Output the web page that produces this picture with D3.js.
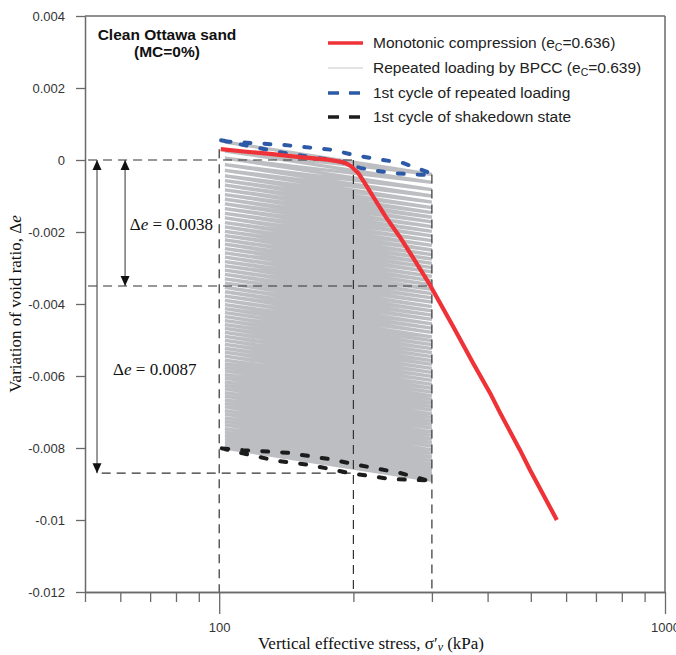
<!DOCTYPE html>
<html><head><meta charset="utf-8">
<script src="https://cdn.jsdelivr.net/npm/d3@7"></script>
<style>
html,body{margin:0;padding:0;background:#fff;}
svg{display:block;}
</style></head>
<body>
<svg id="chart" width="676" height="655"></svg>
<script>
// ---------------- DATA ----------------
const yTickValues = [0.004, 0.002, 0, -0.002, -0.004, -0.006, -0.008, -0.01, -0.012];
const xMajorTicks = [100, 1000];
const xMinorTicks = [50, 60, 70, 80, 90, 200, 300, 400, 500, 600, 700, 800, 900];

// Monotonic compression (ec = 0.636)
const monoStress = [100.8, 115, 130, 152, 175, 187, 193, 198, 205, 213, 221, 237, 254, 275, 297, 335, 371, 405, 427, 473, 498, 572];
const monoDe     = [0.0003, 0.00023, 0.00017, 0.00008, 0.00001, -0.00005, -0.0001, -0.00018, -0.00036, -0.00068, -0.001, -0.0016, -0.00213, -0.0028, -0.00347, -0.00463, -0.00564, -0.00647, -0.00703, -0.00806, -0.00861, -0.01];

// 1st cycle of repeated loading (loading branch then unloading branch)
const blueStress = [101, 113, 139, 166, 180, 196, 207, 226, 250, 282, 300, 297, 258, 233, 200, 180, 139, 105, 101];
const blueDe     = [0.00055, 0.00042, 0.0002, 0.000056, 0, -0.00011, -0.00022, -0.0003, -0.00037, -0.00041, -0.00042, -0.00036, -0.00008, 0, 0.00014, 0.00028, 0.00042, 0.00051, 0.00055];

// 1st cycle of shakedown state
const blackStress = [101.3, 113, 135, 160, 196.5, 242, 277, 300, 297, 254, 221, 177, 142, 113, 101.3];
const blackDe     = [-0.00801, -0.00815, -0.00836, -0.00847, -0.0087, -0.00886, -0.00889, -0.0089, -0.00892, -0.00869, -0.00855, -0.00831, -0.00813, -0.00806, -0.00801];

// Repeated loading by BPCC (ec = 0.639): each cycle from min stress to max stress
const cycleMinStress = 103;
const cycleMaxStress = 300;
const cycleStartDe = [0.0005, 0.00025, 0.00005, -0.00013, -0.00029, -0.00044, -0.00057, -0.0007, -0.00083, -0.00096,
  -0.00109, -0.00122, -0.00135, -0.00148, -0.00161, -0.00174, -0.00186, -0.00198, -0.0021, -0.00222,
  -0.00234, -0.00246, -0.00258, -0.0027, -0.00282, -0.00294, -0.00306, -0.00318, -0.0033, -0.00342,
  -0.00354, -0.00366, -0.00378, -0.0039, -0.00402, -0.00413, -0.00424, -0.00435, -0.00446, -0.00457,
  -0.00468, -0.00479, -0.0049, -0.00501, -0.00512, -0.00523, -0.00534, -0.00545, -0.00556, -0.00566,
  -0.00576, -0.00586, -0.00596, -0.00606, -0.00616, -0.00626, -0.00636, -0.00646, -0.00656, -0.00666,
  -0.00676, -0.00686, -0.00696, -0.00706, -0.00716, -0.00726, -0.00736, -0.00746, -0.00756, -0.00765,
  -0.00774, -0.00783, -0.00792, -0.008];
const cyclePeakDe = [-0.0004, -0.00062, -0.00082, -0.001, -0.00117, -0.00132, -0.00146, -0.00159, -0.00172, -0.00185,
  -0.00198, -0.00211, -0.00224, -0.00237, -0.0025, -0.00263, -0.00275, -0.00287, -0.00299, -0.00311,
  -0.00323, -0.00335, -0.00347, -0.00359, -0.00371, -0.00383, -0.00395, -0.00407, -0.00419, -0.00431,
  -0.00443, -0.00455, -0.00467, -0.00479, -0.00491, -0.00502, -0.00513, -0.00524, -0.00535, -0.00546,
  -0.00557, -0.00568, -0.00579, -0.0059, -0.00601, -0.00612, -0.00623, -0.00634, -0.00645, -0.00655,
  -0.00665, -0.00675, -0.00685, -0.00695, -0.00705, -0.00715, -0.00725, -0.00735, -0.00745, -0.00755,
  -0.00765, -0.00775, -0.00785, -0.00795, -0.00805, -0.00815, -0.00825, -0.00835, -0.00845, -0.00854,
  -0.00863, -0.00872, -0.00881, -0.0089];

// Reference dashed lines
const refLevelDe     = [0, -0.0035, -0.0087];
const refLevelStart  = [50.8, 50.8, 54.5];
const refLevelEnd    = [203, 300, 200];
const refStress      = [100, 200, 300];
const refStressTopDe = [0.0003, 0, -0.0004];

// Annotation arrows and labels
const arrowStress   = [53.2, 61.5];
const arrowTopDe    = [0, 0];
const arrowBottomDe = [-0.0087, -0.0035];
const deltaValues   = ["0.0038", "0.0087"];
const deltaLabelStress = [63.0, 57.8];
const deltaLabelDe  = [-0.00194, -0.00598];

const legendLabels = [
  ["Monotonic compression (e", "C", "=0.636)"],
  ["Repeated loading by BPCC (e", "C", "=0.639)"],
  ["1st cycle of repeated loading"],
  ["1st cycle of shakedown state"]
];

// ---------------- DRAW ----------------
const svg = d3.select("#chart");
const L = 85, R = 665, T = 16, B = 592;
const x = d3.scaleLog().domain([50, 1000]).range([L, R]);
const y = d3.scaleLinear().domain([-0.012, 0.004]).range([B, T]);
const frameColor = "#6a6a6a";
const sans = "Arial, 'Liberation Sans', Helvetica, sans-serif";
const serif = "'Times New Roman', 'Liberation Serif', 'DejaVu Serif', serif";

const line = d3.line().x(d => x(d[0])).y(d => y(d[1]));

// grey repeated cycles
const greyPts = [];
cycleStartDe.forEach((s, i) => {
  greyPts.push([cycleMinStress, s]);
  greyPts.push([cycleMaxStress, cyclePeakDe[i]]);
});
svg.append("path").attr("d", line(greyPts))
  .attr("fill", "none").attr("stroke", "#bdbec1").attr("stroke-width", 3.3)
  .attr("stroke-linejoin", "miter").attr("stroke-miterlimit", 2);

// reference dashed lines
refLevelDe.forEach((d, i) => {
  svg.append("line")
    .attr("x1", x(refLevelStart[i])).attr("x2", x(refLevelEnd[i]))
    .attr("y1", y(d)).attr("y2", y(d))
    .attr("stroke", "#333").attr("stroke-width", 1.2).attr("stroke-dasharray", "9,6");
});
refStress.forEach((s, i) => {
  svg.append("line")
    .attr("x1", x(s)).attr("x2", x(s))
    .attr("y1", y(refStressTopDe[i])).attr("y2", B)
    .attr("stroke", "#333").attr("stroke-width", 1.2).attr("stroke-dasharray", "9,6");
});

// blue first cycle
svg.append("path").attr("d", line(blueStress.map((s, i) => [s, blueDe[i]])))
  .attr("fill", "none").attr("stroke", "#2d5aa6").attr("stroke-width", 4)
  .attr("stroke-linecap", "round").attr("stroke-dasharray", "6,14");

// black shakedown cycle
svg.append("path").attr("d", line(blackStress.map((s, i) => [s, blackDe[i]])))
  .attr("fill", "none").attr("stroke", "#1c1c1c").attr("stroke-width", 4)
  .attr("stroke-linecap", "round").attr("stroke-dasharray", "6,14");

// red monotonic
svg.append("path").attr("d", line(monoStress.map((s, i) => [s, monoDe[i]])))
  .attr("fill", "none").attr("stroke", "#ee3237").attr("stroke-width", 4.2)
  .attr("stroke-linejoin", "round");

// arrows
const defs = svg.append("defs");
defs.append("marker").attr("id", "ah").attr("viewBox", "0 0 10 10")
  .attr("refX", 10).attr("refY", 5).attr("markerWidth", 10).attr("markerHeight", 10)
  .attr("markerUnits", "userSpaceOnUse").attr("orient", "auto-start-reverse")
  .append("path").attr("d", "M0,0.5 L10,5 L0,9.5 Z").attr("fill", "#111");
arrowStress.forEach((s, i) => {
  svg.append("line")
    .attr("x1", x(s)).attr("x2", x(s))
    .attr("y1", y(arrowTopDe[i])).attr("y2", y(arrowBottomDe[i]))
    .attr("stroke", "#555").attr("stroke-width", 1.2)
    .attr("marker-start", "url(#ah)").attr("marker-end", "url(#ah)");
});
deltaValues.forEach((v, i) => {
  const t = svg.append("text").attr("x", x(deltaLabelStress[i])).attr("y", y(deltaLabelDe[i]))
    .attr("font-family", serif).attr("font-size", 17).attr("fill", "#111");
  t.append("tspan").text("Δ");
  t.append("tspan").attr("font-style", "italic").text("e");
  t.append("tspan").text(" = " + v);
});

// axes
const gx1 = svg.append("g").attr("transform", `translate(0,${B})`)
  .call(d3.axisBottom(x).tickValues(xMinorTicks).tickSize(10).tickSizeOuter(0).tickFormat(""));
const gx2 = svg.append("g").attr("transform", `translate(0,${B})`)
  .call(d3.axisBottom(x).tickValues(xMajorTicks).tickSize(22).tickSizeOuter(0).tickPadding(9).tickFormat(d3.format("d")));
const gy = svg.append("g").attr("transform", `translate(${L},0)`)
  .call(d3.axisLeft(y).tickValues(yTickValues).tickSize(9).tickSizeOuter(0).tickPadding(11)
    .tickFormat(d => d === 0 ? "0" : String(+d.toFixed(3))));
[gx1, gx2, gy].forEach(g => {
  g.selectAll("path.domain").attr("stroke", frameColor).attr("stroke-width", 1.5);
  g.selectAll(".tick line").attr("stroke", frameColor).attr("stroke-width", 1.3);
  g.selectAll(".tick text").attr("font-family", sans).attr("font-size", 13).attr("fill", "#333");
});
// top and right frame
svg.append("line").attr("x1", L).attr("x2", R).attr("y1", T).attr("y2", T)
  .attr("stroke", frameColor).attr("stroke-width", 1.5);
svg.append("line").attr("x1", R).attr("x2", R).attr("y1", T).attr("y2", B)
  .attr("stroke", frameColor).attr("stroke-width", 1.5);

// axis titles
const xt = svg.append("text").attr("x", (L + R) / 2 - 4).attr("y", 649).attr("text-anchor", "middle")
  .attr("font-family", serif).attr("font-size", 17).attr("fill", "#111");
xt.append("tspan").text("Vertical effective stress, σ′");
xt.append("tspan").attr("font-style", "italic").attr("font-size", 12).attr("dy", 2).text("v");
xt.append("tspan").attr("dy", -2).text(" (kPa)");

const yt = svg.append("text").attr("transform", `translate(21,${(T + B) / 2}) rotate(-90)`)
  .attr("text-anchor", "middle").attr("font-family", serif).attr("font-size", 17).attr("fill", "#111");
yt.append("tspan").text("Variation of void ratio, Δ");
yt.append("tspan").attr("font-style", "italic").text("e");

// title
svg.append("text").attr("x", 167).attr("y", 40).attr("text-anchor", "middle")
  .attr("font-family", sans).attr("font-weight", "bold").attr("font-size", 15.5).attr("fill", "#111")
  .text("Clean Ottawa sand");
svg.append("text").attr("x", 167).attr("y", 57).attr("text-anchor", "middle")
  .attr("font-family", sans).attr("font-weight", "bold").attr("font-size", 15.5).attr("fill", "#111")
  .text("(MC=0%)");

// legend
const legStyles = [
  {stroke: "#ee3237", w: 3.5, dash: null, cap: "butt"},
  {stroke: "#c8c9cb", w: 1.2, dash: null, cap: "butt"},
  {stroke: "#2d5aa6", w: 3.5, dash: "11,10", cap: "butt"},
  {stroke: "#1c1c1c", w: 3.5, dash: "11,10", cap: "butt"}
];
const legY = [43, 68, 93, 117];
legendLabels.forEach((lab, i) => {
  const st = legStyles[i];
  svg.append("line").attr("x1", 328).attr("x2", 363).attr("y1", legY[i]).attr("y2", legY[i])
    .attr("stroke", st.stroke).attr("stroke-width", st.w)
    .attr("stroke-dasharray", st.dash).attr("stroke-linecap", st.cap);
  const t = svg.append("text").attr("x", 373).attr("y", legY[i] + 5)
    .attr("font-family", sans).attr("font-size", 15.5).attr("fill", "#222");
  t.append("tspan").text(lab[0]);
  if (lab.length > 1) {
    t.append("tspan").attr("font-size", 10.5).attr("dy", 3).text(lab[1]);
    t.append("tspan").attr("dy", -3).text(lab[2]);
  }
});
</script>
</body></html>
